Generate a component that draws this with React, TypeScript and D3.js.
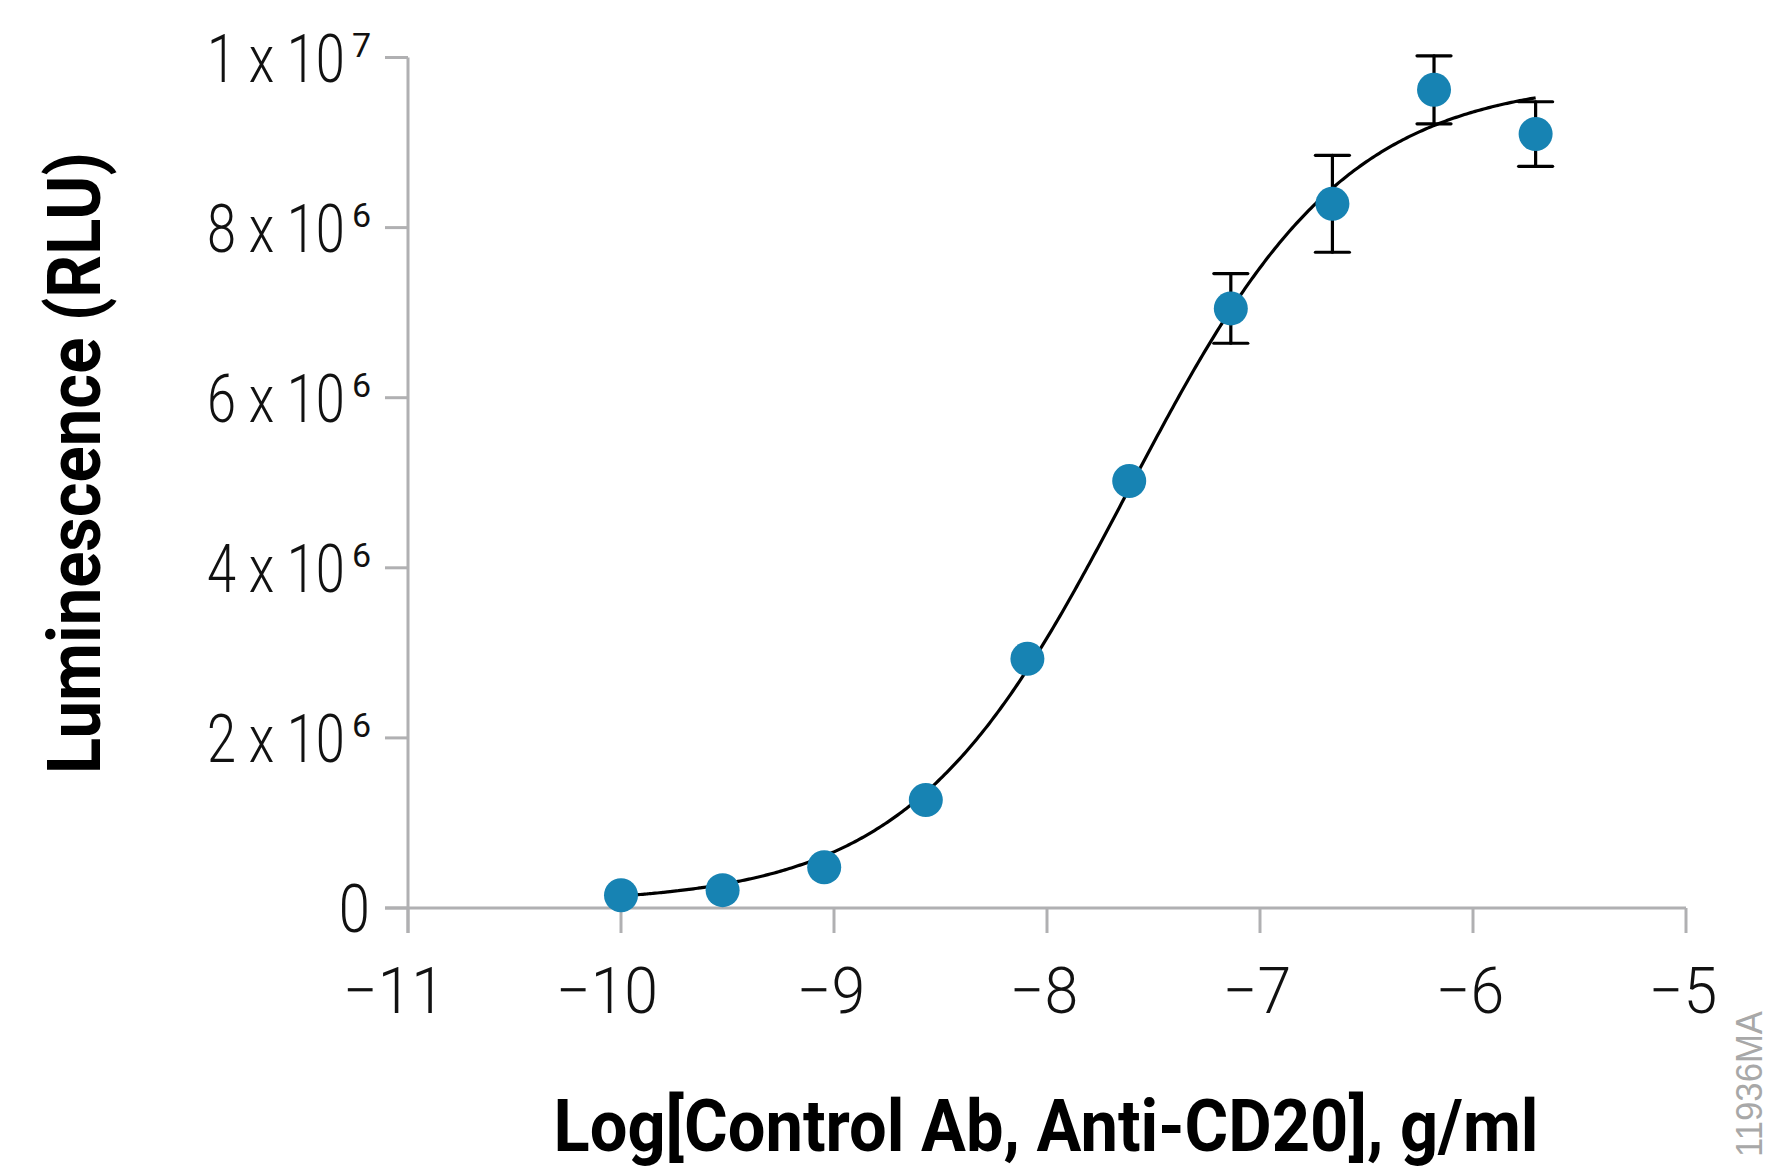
import React from 'react';
import * as d3 from 'd3';

// ---- Data ----
const logConc = [-10, -9.523, -9.046, -8.569, -8.092, -7.614, -7.137, -6.66, -6.183, -5.706];
const luminescence = [0.15e6, 0.21e6, 0.48e6, 1.27e6, 2.93e6, 5.02e6, 7.05e6, 8.28e6, 9.62e6, 9.1e6];
const errorSD = [0, 0, 0, 0, 0, 0, 0.41e6, 0.57e6, 0.4e6, 0.38e6];

// 4-parameter logistic fit shown as the curve
const fitBottom = 0.05e6;
const fitTop = 9.75e6;
const fitLogEC50 = -7.62;
const fitHill = 0.85;

const xTicks = [-11, -10, -9, -8, -7, -6, -5];
const xTickLabels = ['\u221211', '\u221210', '\u22129', '\u22128', '\u22127', '\u22126', '\u22125'];
const yTicks = [0, 2e6, 4e6, 6e6, 8e6, 1e7];
const yTickMantissa = ['0', '2 x 10', '4 x 10', '6 x 10', '8 x 10', '1 x 10'];
const yTickExponent = ['', '6', '6', '6', '6', '7'];

const xTitle = 'Log[Control Ab, Anti-CD20], g/ml';
const yTitle = 'Luminescence (RLU)';
const figureId = '11936MA';

const W = 1771;
const H = 1169;
const AXIS = '#b0b0b2';
const DOT = '#1783b3';
const LIGHT = "'Roboto', 'Liberation Sans', sans-serif";
const BOLD = "'Liberation Sans Narrow', 'Roboto', 'Liberation Sans', sans-serif";

export default function App() {
  const x = d3.scaleLinear().domain([-11, -5]).range([408, 1686]);
  const y = d3.scaleLinear().domain([0, 1e7]).range([908, 57.5]);

  const fit = (v: number) => fitBottom + (fitTop - fitBottom) / (1 + Math.pow(10, (fitLogEC50 - v) * fitHill));
  const xs = d3.range(logConc[0], logConc[logConc.length - 1] + 1e-9, 0.01);
  xs.push(logConc[logConc.length - 1]);
  const line = d3.line<number>().x((d) => x(d)).y((d) => y(fit(d))).curve(d3.curveBasis);

  const tickLen = 23;

  return (
    <svg width={W} height={H} style={{ position: 'absolute', left: 0, top: 0, background: '#fff' }}>
      {/* axes */}
      <g stroke={AXIS} strokeWidth={3} fill="none">
        <line x1={x(-11)} x2={x(-11)} y1={y(1e7)} y2={y(0) + tickLen + 2} />
        <line x1={x(-11) - tickLen} x2={x(-5)} y1={y(0)} y2={y(0)} />
        {yTicks.map((t, i) => (
          <line key={'yt' + i} x1={x(-11) - tickLen} x2={x(-11)} y1={y(t)} y2={y(t)} />
        ))}
        {xTicks.map((t, i) => (
          <line key={'xt' + i} x1={x(t)} x2={x(t)} y1={y(0)} y2={y(0) + tickLen + 2} />
        ))}
      </g>

      {/* y tick labels */}
      {yTicks.map((t, i) =>
        yTickExponent[i] ? (
          <text
            key={'yl' + i}
            x={371}
            y={y(t) + 24}
            textAnchor="end"
            fontFamily={LIGHT}
            fontWeight={300}
            fontSize={66}
            fill="#111"
          >
            <tspan textLength={138} lengthAdjust="spacingAndGlyphs">
              {yTickMantissa[i]}
            </tspan>
            <tspan dx={7} dy={-25} fontSize={34} fontWeight={400}>
              {yTickExponent[i]}
            </tspan>
          </text>
        ) : (
          <text
            key={'yl' + i}
            transform={`translate(370,${y(t) + 24}) scale(0.85,1)`}
            textAnchor="end"
            fontFamily={LIGHT}
            fontWeight={300}
            fontSize={66}
            fill="#111"
          >
            {yTickMantissa[i]}
          </text>
        )
      )}

      {/* x tick labels */}
      {xTicks.map((t, i) => (
        <text
          key={'xl' + i}
          transform={`translate(${x(t) - (xTickLabels[i].length > 2 ? 14 : 3)},1013) scale(0.95,1)`}
          textAnchor="middle"
          fontFamily={LIGHT}
          fontWeight={300}
          fontSize={64}
          fill="#111"
        >
          {xTickLabels[i]}
        </text>
      ))}

      {/* fitted curve */}
      <path d={line(xs) || ''} fill="none" stroke="#000" strokeWidth={3.2} />

      {/* error bars */}
      <g stroke="#000" strokeWidth={3.2} strokeLinecap="round">
        {logConc.map((c, i) =>
          errorSD[i] > 0 ? (
            <g key={'e' + i}>
              <line x1={x(c)} x2={x(c)} y1={y(luminescence[i] + errorSD[i])} y2={y(luminescence[i] - errorSD[i])} />
              <line x1={x(c) - 17} x2={x(c) + 17} y1={y(luminescence[i] + errorSD[i])} y2={y(luminescence[i] + errorSD[i])} />
              <line x1={x(c) - 17} x2={x(c) + 17} y1={y(luminescence[i] - errorSD[i])} y2={y(luminescence[i] - errorSD[i])} />
            </g>
          ) : null
        )}
      </g>

      {/* points */}
      {logConc.map((c, i) => (
        <circle key={'p' + i} cx={x(c)} cy={y(luminescence[i])} r={17} fill={DOT} />
      ))}

      {/* axis titles */}
      <text
        x={1046}
        y={1151}
        textAnchor="middle"
        fontFamily={BOLD}
        fontWeight={700}
        fontSize={72}
        textLength={985}
        lengthAdjust="spacingAndGlyphs"
        fill="#000"
      >
        {xTitle}
      </text>
      <text
        transform={`translate(100,463) rotate(-90)`}
        textAnchor="middle"
        fontFamily={BOLD}
        fontWeight={700}
        fontSize={74}
        textLength={622}
        lengthAdjust="spacingAndGlyphs"
        fill="#000"
      >
        {yTitle}
      </text>

      {/* figure id */}
      <text
        transform={`translate(1762,1084) rotate(-90)`}
        textAnchor="middle"
        fontFamily="'Liberation Sans', 'Roboto', sans-serif"
        fontSize={36}
        textLength={146}
        lengthAdjust="spacingAndGlyphs"
        fill="#a8a8a8"
      >
        {figureId}
      </text>
    </svg>
  );
}
